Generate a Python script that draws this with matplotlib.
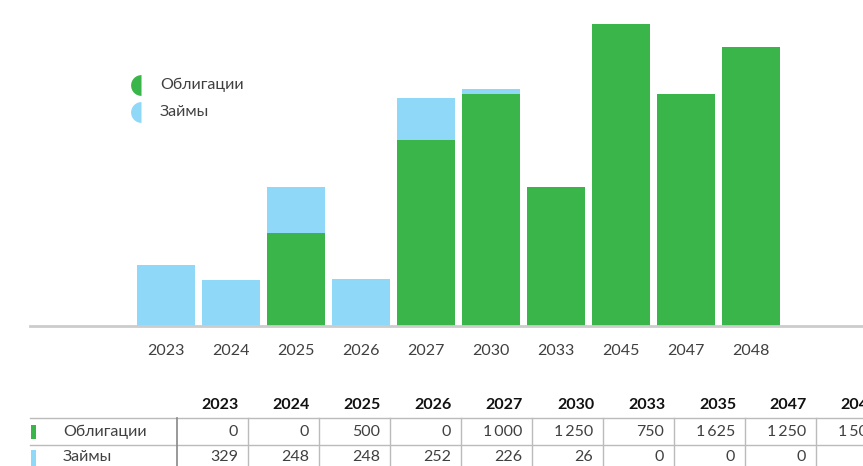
import numpy as np
import matplotlib.pyplot as plt

plt.rcParams['font.family'] = ['Lato', 'DejaVu Sans']

years = ['2023', '2024', '2025', '2026', '2027', '2030', '2033', '2045', '2047', '2048']
table_years = ['2023', '2024', '2025', '2026', '2027', '2030', '2033', '2035', '2047', '2048']
bonds = [0, 0, 500, 0, 1000, 1250, 750, 1625, 1250, 1500]
loans = [329, 248, 248, 252, 226, 26, 0, 0, 0, 0]

green = '#39b54a'
blue = '#8fd8f8'
grey_txt = '#404040'

W, H = 863, 466
fig = plt.figure(figsize=(W / 100, H / 100), dpi=100)

# bar chart area (pixel geometry of the reference)
ax = fig.add_axes([30 / W, 1 - 326 / H, (W - 30) / W, 326 / H])
x = np.arange(len(years))
ax.bar(x, bonds, width=0.89, color=green)
ax.bar(x, loans, width=0.89, bottom=bonds, color=blue)
ax.set_xlim(-2.09, 10.72)
ax.set_ylim(0, 1754)
ax.set_xticks(x, years)
ax.tick_params(axis='x', length=0, pad=13, labelsize=11.5, labelcolor=grey_txt)
ax.set_yticks([])
for s in ['top', 'left', 'right']:
    ax.spines[s].set_visible(False)
ax.spines['bottom'].set_color('#cccccc')
ax.spines['bottom'].set_linewidth(2)

# overlay for legend and table, in pixel coords
ov = fig.add_axes([0, 0, 1, 1])
ov.set_xlim(0, W)
ov.set_ylim(H, 0)
ov.axis('off')

for yy, c, lab in [(85, green, 'Облигации'), (112, blue, 'Займы')]:
    ov.plot([141], [yy], marker='o', markersize=15, fillstyle='left',
            markerfacecolor=c, markerfacecoloralt='none', markeredgewidth=0)
    ov.text(160, yy, lab, fontsize=11.5, color=grey_txt, va='center')

# table
col_edges = [177 + 71 * i for i in range(len(table_years) + 1)]
ov.plot([30, W], [418, 418], color='#bbbbbb', lw=1)
ov.plot([30, W], [445, 445], color='#bbbbbb', lw=1)
ov.plot([177, 177], [418, H], color='#888888', lw=1.2)
for e in col_edges[1:]:
    ov.plot([e, e], [418, H], color='#bbbbbb', lw=1)

for i, yr in enumerate(table_years):
    r = col_edges[i + 1] - 10
    ov.text(r + 1, 405, yr, ha='right', va='center', fontsize=11.5, fontweight='bold', color='#111111')
    ov.text(r, 432, f'{bonds[i]:,}'.replace(',', '\u2009'), ha='right', va='center',
            fontsize=11.5, color=grey_txt)
    ov.text(r, 457, f'{loans[i]:,}'.replace(',', '\u2009'), ha='right', va='center',
            fontsize=11.5, color=grey_txt)

ov.add_patch(plt.Rectangle((31, 425), 5, 14, color=green, lw=0))
ov.add_patch(plt.Rectangle((31, 450), 5, 16, color=blue, lw=0))
ov.text(63, 432, 'Облигации', va='center', fontsize=11.5, color=grey_txt)
ov.text(63, 457, 'Займы', va='center', fontsize=11.5, color=grey_txt)

fig.savefig('out.png', dpi=100)
